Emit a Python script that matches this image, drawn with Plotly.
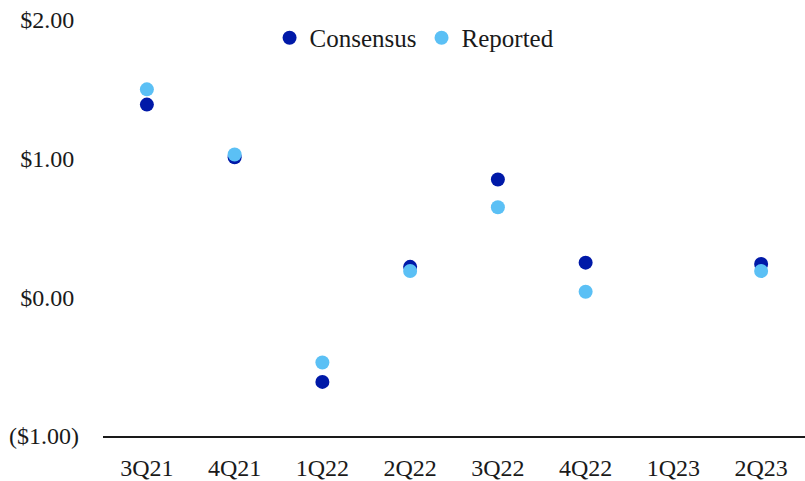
import plotly.graph_objects as go

# Quarterly EPS: consensus estimate vs. reported
quarters = ["3Q21", "4Q21", "1Q22", "2Q22", "3Q22", "4Q22", "1Q23", "2Q23"]
consensus = [1.39, 1.01, -0.61, 0.22, 0.85, 0.25, None, 0.24]
reported = [1.50, 1.03, -0.47, 0.19, 0.65, 0.04, None, 0.19]

y_ticks = [-1, 0, 1, 2]
y_tick_labels = ["($1.00)", "$0.00\u2009", "$1.00\u2009", "$2.00\u2009"]

FONT = "Liberation Serif"
DARK = "#0019A8"
LIGHT = "#5BC0F5"

fig = go.Figure()
fig.add_trace(go.Scatter(
    x=quarters, y=consensus, mode="markers", name="Consensus",
    marker=dict(color=DARK, size=14, line=dict(width=0)),
))
fig.add_trace(go.Scatter(
    x=quarters, y=reported, mode="markers", name="Reported",
    marker=dict(color=LIGHT, size=14, line=dict(width=0)),
))

fig.update_layout(
    width=805, height=481,
    margin=dict(l=103, r=0, t=20, b=45, autoexpand=False),
    paper_bgcolor="white", plot_bgcolor="white",
    font=dict(family=FONT, size=24, color="#1a1a1a"),
    showlegend=True,
    legend=dict(
        orientation="h", xref="container", yref="container",
        x=0.515, xanchor="center", y=0.921, yanchor="middle",
        font=dict(family=FONT, size=25, color="#1a1a1a"),
        itemwidth=30, tracegroupgap=0, bgcolor="rgba(0,0,0,0)",
    ),
    xaxis=dict(
        type="category", categoryorder="array", categoryarray=quarters,
        range=[-0.5, len(quarters) - 0.5],
        showgrid=False, zeroline=False,
        showline=True, linecolor="#1a1a1a", linewidth=2,
        ticks="", ticklabelstandoff=9,
    ),
    yaxis=dict(
        range=[-1, 2], tickvals=y_ticks, ticktext=y_tick_labels,
        showgrid=False, zeroline=False, showline=False,
        ticks="", ticklabelstandoff=23,
    ),
)

fig.write_html("out.html")
